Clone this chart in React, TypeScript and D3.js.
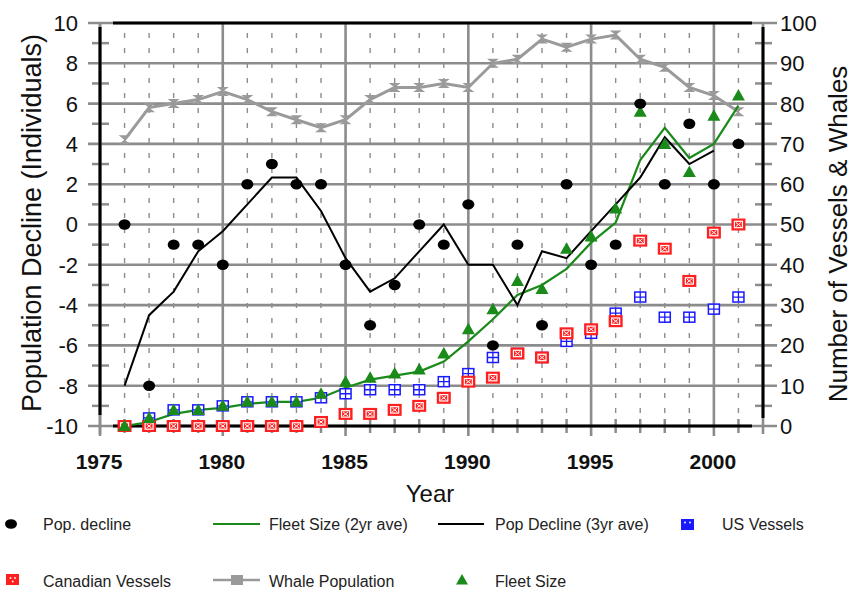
import React from "react";
import * as d3 from "d3";

// Survey years
const years = [1976, 1977, 1978, 1979, 1980, 1981, 1982, 1983, 1984, 1985, 1986, 1987, 1988,
  1989, 1990, 1991, 1992, 1993, 1994, 1995, 1996, 1997, 1998, 1999, 2000, 2001];

// Left axis: population decline (individuals)
const popDecline = [0, -8, -1, -1, -2, 2, 3, 2, 2, -2, -5, -3, 0, -1, 1, -6, -1, -5, 2, -2, -1, 6, 2, 5, 2, 4];
const popDecline3yr: (number | null)[] = [-8, -4.5, -3.33, -1.33, -0.33, 1, 2.33, 2.33, 0.67, -1.67, -3.33, -2.67,
  -1.33, 0, -2, -2, -4, -1.33, -1.67, -0.33, 1, 2.33, 4.33, 3, 3.67, null];

// Right axis: vessels and whales
const whalePop = [71, 79, 80, 81, 83, 81, 78, 76, 74, 76, 81, 84, 84, 85, 84, 90, 91, 96, 94, 96, 97, 91, 89, 84, 82, 78];
const fleetSize = [0, 2, 4, 4, 5, 6, 6, 6, 8, 11, 12, 13, 14, 18, 24, 29, 36, 34, 44, 47, 54, 78, 70, 63, 77, 82];
const fleet2yr = [0, 1, 3, 4, 4.5, 5.5, 6, 6, 7, 9.5, 11.5, 12.5, 13.5, 16, 21, 26.5, 32.5, 35, 39, 45.5, 50.5, 66, 74, 66.5, 70, 79.5];
const usVessels = [0, 2, 4, 4, 5, 6, 6, 6, 7, 8, 9, 9, 9, 11, 13, 17, 18, 17, 21, 23, 28, 32, 27, 27, 29, 32];
const canVessels = [0, 0, 0, 0, 0, 0, 0, 0, 1, 3, 3, 4, 5, 7, 11, 12, 18, 17, 23, 24, 26, 46, 44, 36, 48, 50];

// Axis ticks
const xTicks = [1975, 1980, 1985, 1990, 1995, 2000];
const xMinorTicks = [1976, 1977, 1978, 1979, 1981, 1982, 1983, 1984, 1986, 1987, 1988, 1989,
  1991, 1992, 1993, 1994, 1996, 1997, 1998, 1999, 2001];
const leftTicks = [-10, -8, -6, -4, -2, 0, 2, 4, 6, 8, 10];
const leftMinorTicks = [-9, -7, -5, -3, -1, 1, 3, 5, 7, 9];
const rightTicks = [0, 10, 20, 30, 40, 50, 60, 70, 80, 90, 100];

const W = 855;
const H = 591;
const FONT = "Liberation Sans, Arial, sans-serif";

const GRID = "#8c8c8c";
const GREEN = "#1a8a1a";
const RED = "#ff1f1f";
const BLUE = "#1a1aff";
const WHALE = "#9a9a9a";

const x = d3.scaleLinear().domain([1975, 2002]).range([100, 763]);
const yL = d3.scaleLinear().domain([-10, 10]).range([426, 23]);
const yR = d3.scaleLinear().domain([0, 100]).range([426, 23]);

const hourglass = "M-6,-4.5H6L-6,4.5H6Z";

function CanMarker({ cx, cy }: { cx: number; cy: number }) {
  return (
    <g transform={`translate(${cx},${cy})`}>
      <rect x={-7} y={-6} width={14} height={12} fill={RED} />
      <rect x={-4} y={-3.2} width={8} height={6.4} fill="none" stroke="#fff" strokeWidth={1.2} />
      <path d="M-2.5,-2L2.5,2M2.5,-2L-2.5,2" stroke="#fff" strokeWidth={1} />
    </g>
  );
}

function UsMarker({ cx, cy }: { cx: number; cy: number }) {
  return (
    <g transform={`translate(${cx},${cy})`}>
      <rect x={-5.5} y={-5} width={11} height={10} fill="#fff" stroke={BLUE} strokeWidth={1.5} />
      <path d="M0,-5V5M-5.5,0H5.5" stroke={BLUE} strokeWidth={1.3} />
    </g>
  );
}

function Triangle({ cx, cy }: { cx: number; cy: number }) {
  return <path transform={`translate(${cx},${cy})`} d="M0,-6.5L6.5,5H-6.5Z" fill={GREEN} />;
}

export default function App() {
  const lineL = d3
    .line<[number, number | null]>()
    .defined((d) => d[1] !== null)
    .x((d) => x(d[0]))
    .y((d) => yL(d[1] as number));
  const lineR = d3
    .line<[number, number]>()
    .x((d) => x(d[0]))
    .y((d) => yR(d[1]));

  const avgPath = lineL(years.map((yr, i) => [yr, popDecline3yr[i]]));
  const fleetPath = lineR(years.map((yr, i) => [yr, fleet2yr[i]]));
  const whalePath = lineR(years.map((yr, i) => [yr, whalePop[i]]));

  const top = yL(10);
  const bottom = yL(-10);
  const left = x(1975);
  const right = x(2002);

  const legendText = { fontFamily: FONT, fontSize: 16, fill: "#222" } as const;

  return (
    <svg
      width={W}
      height={H}
      viewBox={`0 0 ${W} ${H}`}
      style={{ position: "absolute", left: 0, top: 0, background: "#fff" }}
    >
      <rect width={W} height={H} fill="#fff" />

      {/* dashed yearly guides */}
      {xMinorTicks.map((yr) => (
        <line key={`d${yr}`} x1={x(yr)} x2={x(yr)} y1={top + 10} y2={bottom - 6}
          stroke={GRID} strokeWidth={1.4} strokeDasharray="5,10" />
      ))}
      {/* bottom minor ticks */}
      {xMinorTicks.map((yr) => (
        <line key={`bt${yr}`} x1={x(yr)} x2={x(yr)} y1={bottom - 7} y2={bottom + 7}
          stroke={GRID} strokeWidth={2.5} />
      ))}
      {/* horizontal grid */}
      {leftTicks.map((v) => (
        <line key={`h${v}`} x1={left - 12} x2={right + 14} y1={yL(v)} y2={yL(v)}
          stroke={GRID} strokeWidth={2.6} />
      ))}
      {/* vertical grid */}
      {xTicks.map((yr) => (
        <line key={`v${yr}`} x1={x(yr)} x2={x(yr)} y1={top} y2={bottom + 10}
          stroke={GRID} strokeWidth={2.6} />
      ))}
      {/* minor ticks on both value axes */}
      {leftMinorTicks.map((v) => (
        <g key={`m${v}`}>
          <line x1={left - 8} x2={left + 9} y1={yL(v)} y2={yL(v)} stroke={GRID} strokeWidth={2.5} />
          <line x1={right - 8} x2={right + 9} y1={yL(v)} y2={yL(v)} stroke={GRID} strokeWidth={2.5} />
        </g>
      ))}
      {/* frame */}
      <line x1={right} x2={right} y1={top} y2={bottom + 8} stroke={GRID} strokeWidth={2.6} />
      <line x1={left} x2={left} y1={top} y2={bottom + 8} stroke={GRID} strokeWidth={2.6} />
      <line x1={left + 13} x2={right - 11} y1={top} y2={top} stroke="#000" strokeWidth={3} />
      <line x1={left + 13} x2={right - 11} y1={bottom} y2={bottom} stroke="#000" strokeWidth={3} />
      <line x1={left} x2={left} y1={top + 4} y2={bottom - 11} stroke="#000" strokeWidth={3} />
      <line x1={right} x2={right} y1={top + 4} y2={bottom - 8} stroke="#000" strokeWidth={3} />

      {/* tick labels */}
      {leftTicks.map((v) => (
        <text key={`lt${v}`} x={78} y={yL(v)} dy="0.36em" textAnchor="end"
          fontFamily={FONT} fontSize={22} fill="#111">{v}</text>
      ))}
      {rightTicks.map((v) => (
        <text key={`rt${v}`} x={780} y={yR(v)} dy="0.36em" textAnchor="start"
          fontFamily={FONT} fontSize={22} fill="#111">{v}</text>
      ))}
      {xTicks.map((yr) => (
        <text key={`xt${yr}`} x={x(yr) - 1} y={469} textAnchor="middle"
          fontFamily={FONT} fontSize={21} fontWeight="bold" fill="#111">{yr}</text>
      ))}

      {/* axis titles */}
      <text x={430} y={502} textAnchor="middle" fontFamily={FONT} fontSize={24} fill="#111">Year</text>
      <text transform="translate(41,223) rotate(-90)" textAnchor="middle"
        fontFamily={FONT} fontSize={27} fill="#111">Population Decline (Individuals)</text>
      <text transform="translate(847,234) rotate(-90)" textAnchor="middle"
        fontFamily={FONT} fontSize={26} fill="#111">Number of Vessels &amp; Whales</text>

      {/* whale population */}
      <path d={whalePath ?? ""} fill="none" stroke={WHALE} strokeWidth={3} />
      {years.map((yr, i) => (
        <path key={`w${yr}`} transform={`translate(${x(yr)},${yR(whalePop[i])})`} d={hourglass} fill={WHALE} />
      ))}

      {/* fleet size 2-year average */}
      <path d={fleetPath ?? ""} fill="none" stroke={GREEN} strokeWidth={2.2} />
      {/* population decline 3-year average */}
      <path d={avgPath ?? ""} fill="none" stroke="#000" strokeWidth={2} />

      {/* vessels */}
      {years.map((yr, i) => (
        <UsMarker key={`us${yr}`} cx={x(yr)} cy={yR(usVessels[i])} />
      ))}
      {years.map((yr, i) => (
        <CanMarker key={`ca${yr}`} cx={x(yr)} cy={yR(canVessels[i])} />
      ))}
      {years.map((yr, i) => (
        <Triangle key={`fs${yr}`} cx={x(yr)} cy={yR(fleetSize[i])} />
      ))}
      {/* population decline */}
      {years.map((yr, i) => (
        <ellipse key={`pd${yr}`} cx={x(yr)} cy={yL(popDecline[i])} rx={6} ry={5.2} fill="#000" />
      ))}

      {/* legend */}
      <g>
        <ellipse cx={11} cy={524} rx={6} ry={4.8} fill="#000" />
        <text x={43} y={530} {...legendText}>Pop. decline</text>

        <line x1={213} x2={260} y1={524} y2={524} stroke={GREEN} strokeWidth={2.2} />
        <text x={269} y={530} {...legendText}>Fleet Size (2yr ave)</text>

        <line x1={438} x2={484} y1={524} y2={524} stroke="#000" strokeWidth={2.2} />
        <text x={495} y={530} {...legendText}>Pop Decline (3yr ave)</text>

        <rect x={681} y={519} width={13} height={11} fill={BLUE} />
        <circle cx={685} cy={522.5} r={0.9} fill="#fff" />
        <circle cx={690} cy={522.5} r={0.9} fill="#fff" />
        <text x={722} y={530} {...legendText}>US Vessels</text>

        <rect x={6} y={574} width={13} height={11} fill={RED} />
        <circle cx={10.5} cy={578} r={0.9} fill="#fff" />
        <circle cx={15} cy={578} r={0.9} fill="#fff" />
        <circle cx={12.7} cy={581.5} r={0.9} fill="#fff" />
        <text x={43} y={587} {...legendText}>Canadian Vessels</text>

        <line x1={213} x2={260} y1={580} y2={580} stroke={WHALE} strokeWidth={2.6} />
        <rect x={231} y={575} width={12} height={10} fill={WHALE} />
        <text x={269} y={587} {...legendText}>Whale Population</text>

        <path transform="translate(462,580)" d="M0,-6L6,4.5H-6Z" fill={GREEN} />
        <text x={495} y={587} {...legendText}>Fleet Size</text>
      </g>
    </svg>
  );
}
